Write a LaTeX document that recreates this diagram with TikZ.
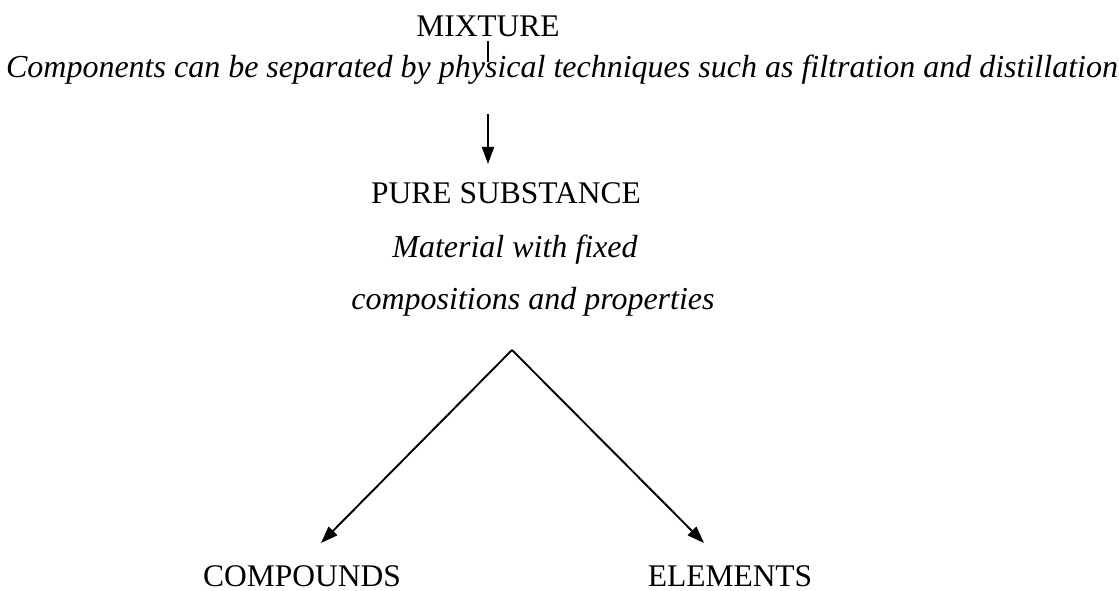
\documentclass[tikz,border=0pt]{standalone}
\usepackage{fontspec}
\setmainfont{Liberation Serif}
\usetikzlibrary{arrows.meta}
\begin{document}
\begin{tikzpicture}[x=1pt,y=-1pt,
  caps/.style={font=\fontsize{31.5}{36}\selectfont, inner sep=0pt, anchor=base},
  desc/.style={font=\fontsize{32}{36}\selectfont\itshape, inner sep=0pt, anchor=base},
  conn/.style={line width=1.9pt},
  arr/.style={conn, -{Triangle[length=17pt,width=12pt]}}]
\useasboundingbox (0,0) rectangle (1119,591);
\node[caps] (mix) at (488,37) {MIXTURE};
\node[desc] (sep) at (562,78) {Components can be separated by physical techniques such as filtration and distillation};
\node[caps] (pure) at (506,203) {PURE SUBSTANCE};
\node[desc] (mat1) at (515,257) {Material with fixed};
\node[desc] (mat2) at (533,309) {compositions and properties};
\node[caps] (comp) at (302,586) {COMPOUNDS};
\node[caps] (elem) at (730,586) {ELEMENTS};
\coordinate (t1) at (488,41);
\coordinate (t2) at (488,62);
\coordinate (a1) at (488,114);
\coordinate (a2) at (488,164);
\coordinate (apex) at (512,350);
\coordinate (lt) at (321,543);
\coordinate (rt) at (704,543);
\draw[conn] (t1) -- (t2);
\draw[arr] (a1) -- (a2);
\draw[arr] (apex) -- (lt);
\draw[arr] (apex) -- (rt);
\end{tikzpicture}
\end{document}
